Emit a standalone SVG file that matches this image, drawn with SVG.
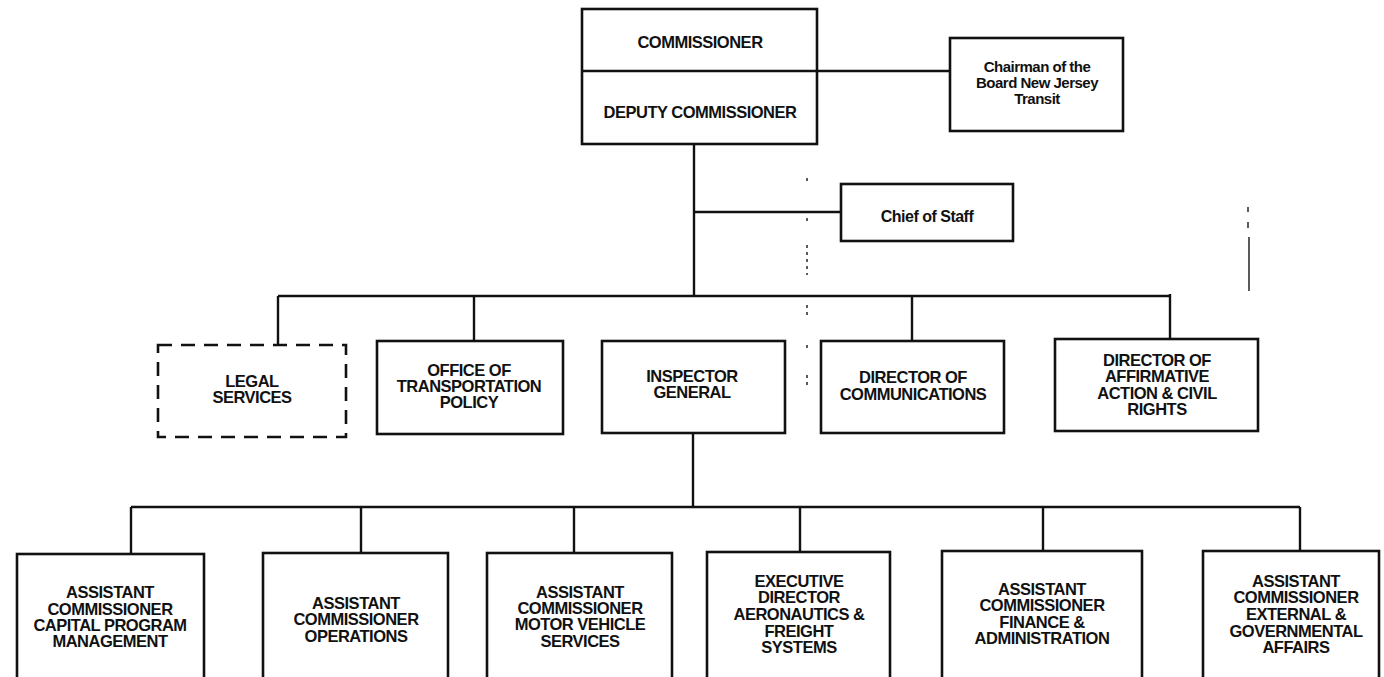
<svg xmlns="http://www.w3.org/2000/svg" width="1384" height="677" viewBox="0 0 1384 677">
<style>
.box{fill:#fff;stroke:#111;stroke-width:2.6}
.dash{fill:#fff;stroke:#111;stroke-width:2.6;stroke-dasharray:14 9}
.ln{fill:none;stroke:#111;stroke-width:2.4}
.t{font-family:"Liberation Sans",Arial,sans-serif;font-weight:bold;font-size:16.5px;fill:#111;text-anchor:middle;letter-spacing:-0.5px}
.s{font-family:"Liberation Sans",Arial,sans-serif;font-weight:bold;font-size:15px;fill:#111;text-anchor:middle;letter-spacing:-0.5px}
.art{fill:none;stroke:#333;stroke-width:1.6}
</style>
<rect width="1384" height="677" fill="#fff"/>
<g id="connectors">
<path class="ln" d="M817 71H950"/>
<path class="ln" d="M694 144V297"/>
<path class="ln" d="M694 212H841"/>
<path class="ln" d="M278 296H1170"/>
<path class="ln" d="M278 296V345"/>
<path class="ln" d="M474 296V341"/>
<path class="ln" d="M912 296V341"/>
<path class="ln" d="M1170 294V339"/>
<path class="ln" d="M693 433V507"/>
<path class="ln" d="M131 507H1300"/>
<path class="ln" d="M131 507V554"/>
<path class="ln" d="M361 507V553"/>
<path class="ln" d="M574 507V553"/>
<path class="ln" d="M800 507V552"/>
<path class="ln" d="M1043 507V551"/>
<path class="ln" d="M1300 507V551"/>
</g>
<g id="artifacts">
<path class="art" d="M1249 237V291" stroke-width="2"/>
<path class="art" d="M1248 207V212M1248 222V228"/>
<path class="art" d="M807 178V182M807 218V222M807 245V275M807 305V318M807 345V350M807 375V386" stroke-dasharray="3 4"/>
<path class="art" d="M557 347L555 357"/>
</g>
<g id="commissioner">
<rect class="box" x="582" y="9" width="235" height="135"/>
<path class="ln" d="M582 71H817"/>
<text class="t" x="700" y="48">COMMISSIONER</text>
<text class="t" x="700" y="118">DEPUTY COMMISSIONER</text>
</g>
<g id="chairman">
<rect class="box" x="950" y="38" width="173" height="93"/>
<text class="s" x="1037" y="72">Chairman of the</text>
<text class="s" x="1037" y="88">Board New Jersey</text>
<text class="s" x="1037" y="104">Transit</text>
</g>
<g id="chief-of-staff">
<rect class="box" x="841" y="184" width="172" height="57"/>
<text class="t" x="927" y="222" style="font-size:16px">Chief of Staff</text>
</g>
<g id="legal">
<rect class="dash" x="158" y="345" width="188" height="92"/>
<text class="t" x="252" y="387">LEGAL</text>
<text class="t" x="252" y="403">SERVICES</text>
</g>
<g id="transportation-policy">
<rect class="box" x="377" y="341" width="186" height="93"/>
<text class="t" x="469" y="376">OFFICE OF</text>
<text class="t" x="469" y="392">TRANSPORTATION</text>
<text class="t" x="469" y="408">POLICY</text>
</g>
<g id="inspector-general">
<rect class="box" x="602" y="341" width="183" height="92"/>
<text class="t" x="692" y="382">INSPECTOR</text>
<text class="t" x="692" y="398">GENERAL</text>
</g>
<g id="communications">
<rect class="box" x="821" y="341" width="183" height="92"/>
<text class="t" x="913" y="383">DIRECTOR OF</text>
<text class="t" x="913" y="400">COMMUNICATIONS</text>
</g>
<g id="affirmative-action">
<rect class="box" x="1055" y="339" width="203" height="92"/>
<text class="t" x="1157" y="366">DIRECTOR OF</text>
<text class="t" x="1157" y="382">AFFIRMATIVE</text>
<text class="t" x="1157" y="399">ACTION &amp; CIVIL</text>
<text class="t" x="1157" y="415">RIGHTS</text>
</g>
<g id="capital-program">
<rect class="box" x="17" y="554" width="187" height="125"/>
<text class="t" x="110" y="598">ASSISTANT</text>
<text class="t" x="110" y="615">COMMISSIONER</text>
<text class="t" x="110" y="631">CAPITAL PROGRAM</text>
<text class="t" x="110" y="647">MANAGEMENT</text>
</g>
<g id="operations">
<rect class="box" x="263" y="553" width="185" height="126"/>
<text class="t" x="356" y="609">ASSISTANT</text>
<text class="t" x="356" y="625">COMMISSIONER</text>
<text class="t" x="356" y="642">OPERATIONS</text>
</g>
<g id="motor-vehicle">
<rect class="box" x="487" y="553" width="185" height="126"/>
<text class="t" x="580" y="598">ASSISTANT</text>
<text class="t" x="580" y="614">COMMISSIONER</text>
<text class="t" x="580" y="630">MOTOR VEHICLE</text>
<text class="t" x="580" y="647">SERVICES</text>
</g>
<g id="aeronautics">
<rect class="box" x="707" y="552" width="183" height="127"/>
<text class="t" x="799" y="587">EXECUTIVE</text>
<text class="t" x="799" y="603">DIRECTOR</text>
<text class="t" x="799" y="620">AERONAUTICS &amp;</text>
<text class="t" x="799" y="637">FREIGHT</text>
<text class="t" x="799" y="653">SYSTEMS</text>
</g>
<g id="finance">
<rect class="box" x="942" y="551" width="200" height="128"/>
<text class="t" x="1042" y="595">ASSISTANT</text>
<text class="t" x="1042" y="611">COMMISSIONER</text>
<text class="t" x="1042" y="628">FINANCE &amp;</text>
<text class="t" x="1042" y="644">ADMINISTRATION</text>
</g>
<g id="external-affairs">
<rect class="box" x="1203" y="551" width="176" height="128"/>
<text class="t" x="1296" y="587">ASSISTANT</text>
<text class="t" x="1296" y="603">COMMISSIONER</text>
<text class="t" x="1296" y="620">EXTERNAL &amp;</text>
<text class="t" x="1296" y="637">GOVERNMENTAL</text>
<text class="t" x="1296" y="653">AFFAIRS</text>
</g>
</svg>
